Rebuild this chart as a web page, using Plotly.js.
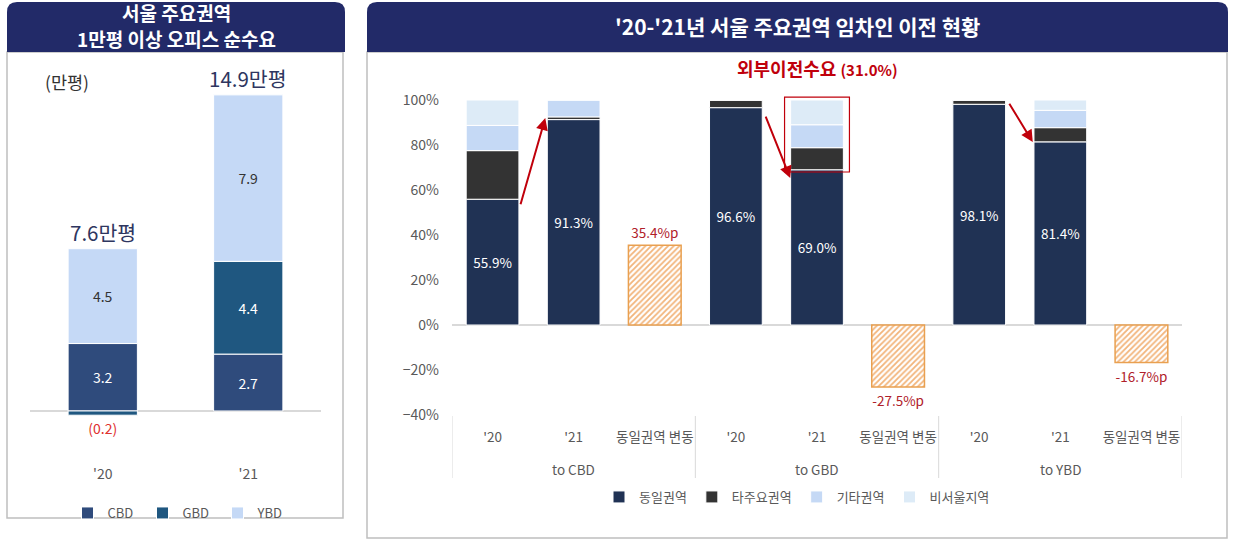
<!DOCTYPE html>
<html>
<head>
<meta charset="utf-8">
<script src="https://cdn.plot.ly/plotly-3.0.1.min.js"></script>
<style>
  html, body { margin: 0; padding: 0; background: #fff; }
  #chart { width: 1235px; height: 540px; }
</style>
</head>
<body>
<div id="chart"></div>
<script>
// left panel: net absorption (만평)
const years = ["'20", "'21"];
const cbd = [3.2, 2.7];
const gbd = [-0.2, 4.4];
const ybd = [4.5, 7.9];
const totals = ["7.6만평", "14.9만평"];

// right panel: tenant relocation shares (%)
const groups = ["to CBD", "to CBD", "to CBD", "to GBD", "to GBD", "to GBD", "to YBD", "to YBD", "to YBD"];
const periods = ["'20", "'21", "동일권역 변동", "'20", "'21", "동일권역 변동", "'20", "'21", "동일권역 변동"];
const sameArea = [55.9, 91.3, null, 96.6, 69.0, null, 98.1, 81.4, null];
const otherMajor = [21.6, 1.2, null, 3.4, 9.8, null, 1.9, 6.3, null];
const otherArea = [11.2, 7.5, null, 0, 10.2, null, 0, 7.7, null];
const nonSeoul = [11.3, 0, null, 0, 11.0, null, 0, 4.6, null];
const sameChange = [null, null, 35.4, null, null, -27.5, null, null, -16.7];

const W = 1235, H = 540;
const px = x => x / W;
const py = y => 1 - y / H;
const FONT = "'Noto Sans CJK KR', 'Noto Sans', sans-serif";
const NAVY = "#222A68";
const RED = "#C0000B";
const GREY = "#595959";
const idx = periods.map((_, i) => i);

function header(x0, x1, y0, y1, r) {
  return {
    type: "path", xref: "paper", yref: "paper",
    path: `M ${px(x0)},${py(y1)} L ${px(x0)},${py(y0 + r)} Q ${px(x0)},${py(y0)} ${px(x0 + r)},${py(y0)} ` +
          `L ${px(x1 - r)},${py(y0)} Q ${px(x1)},${py(y0)} ${px(x1)},${py(y0 + r)} L ${px(x1)},${py(y1)} Z`,
    fillcolor: NAVY, line: { width: 0 }, layer: "below"
  };
}
function box(x0, x1, y0, y1) {
  return {
    type: "rect", xref: "paper", yref: "paper",
    x0: px(x0), x1: px(x1), y0: py(y1), y1: py(y0),
    line: { color: "#BFBFBF", width: 1.5 }, fillcolor: "rgba(0,0,0,0)", layer: "below"
  };
}
function note(x, y, text, font) {
  return { xref: "paper", yref: "paper", x: px(x), y: py(y), text, font,
    showarrow: false, xanchor: "center", yanchor: "middle", align: "center" };
}

const white = "rgba(255,255,255,1)";
const leftTraces = [
  { name: "CBD", y: cbd, marker: { color: "#2F4B7C", line: { color: white, width: 1 } },
    text: cbd.map(v => v.toFixed(1)), textposition: "inside", textfont: { color: "#fff" } },
  { name: "GBD", y: gbd, marker: { color: "#1F5780", line: { color: white, width: 1 } },
    text: gbd.map(v => v < 0 ? "(" + Math.abs(v).toFixed(1) + ")" : v.toFixed(1)),
    textposition: gbd.map(v => v < 0 ? "outside" : "inside"),
    textfont: { color: gbd.map(v => v < 0 ? "#E0302F" : "#fff") } },
  { name: "YBD", y: ybd, marker: { color: "#C5D9F6", line: { color: white, width: 1 } },
    text: ybd.map(v => v.toFixed(1)), textposition: "inside", textfont: { color: "#333" } }
].map(t => Object.assign({
  type: "bar", x: years, xaxis: "x", yaxis: "y", width: 0.476,
  insidetextanchor: "middle", textangle: 0, cliponaxis: false,
  hoverinfo: "skip", legend: "legend"
}, t, { textfont: Object.assign({ size: 14, family: FONT }, t.textfont) }));

const stackSpec = [
  ["동일권역", sameArea, "#203254"],
  ["타주요권역", otherMajor, "#333333"],
  ["기타권역", otherArea, "#C5D9F5"],
  ["비서울지역", nonSeoul, "#DDEBF7"]
];
const rightTraces = stackSpec.map(([name, vals, color], i) => ({
  type: "bar", name, x: idx, y: vals, xaxis: "x2", yaxis: "y2", width: 0.65,
  marker: { color, line: { color: white, width: 1 } },
  texttemplate: i === 0 ? "%{y:.1f}%" : "",
  textposition: i === 0 ? "inside" : "none",
  insidetextanchor: "middle", textangle: 0,
  textfont: { color: "#fff", size: 13.5, family: FONT },
  hoverinfo: "skip", legend: "legend2"
}));
rightTraces.push({
  type: "bar", name: "동일권역 변동", x: idx, y: sameChange, xaxis: "x2", yaxis: "y2", width: 0.65,
  marker: { color: "#fff", line: { color: "#E9A050", width: 1.5 },
    pattern: { shape: "/", fgcolor: "#F2B47A", bgcolor: "#fff", size: 4, solidity: 0.45 } },
  texttemplate: "%{y:.1f}%p", textposition: "outside", cliponaxis: false,
  textfont: { color: "#B0202A", size: 13.5, family: FONT },
  showlegend: false, hoverinfo: "skip"
});

// group labels and dividers for the two-level category axis
const groupNames = [...new Set(groups)];
const groupLabels = groupNames.map(g => {
  const members = idx.filter(i => groups[i] === g);
  return { xref: "x2", yref: "paper", x: (members[0] + members[members.length - 1]) / 2, y: py(469),
    text: g, showarrow: false, yanchor: "middle", font: { size: 13.5, color: GREY } };
});
const bounds = [-0.5].concat(groupNames.map(g => Math.max(...idx.filter(i => groups[i] === g)) + 0.5));
const dividers = bounds.map(b => ({
  type: "line", xref: "x2", yref: "paper", x0: b, x1: b, y0: py(416), y1: py(478),
  line: { color: "#D9D9D9", width: 1 }
}));

// relocation arrows: from '20 same-area top to '21 bar
const arrowFrom = [[0.34, 53], [3.36, 93.3], [6.36, 99]];
const arrowTo = [[0.65, 92], [3.67, 65.3], [6.66, 81.3]];
const arrows = arrowFrom.map((f, i) => ({
  xref: "x2", yref: "y2", axref: "x2", ayref: "y2",
  x: arrowTo[i][0], y: arrowTo[i][1], ax: f[0], ay: f[1],
  showarrow: true, arrowhead: 2, arrowsize: 1.2, arrowwidth: 2, arrowcolor: RED, text: ""
}));

const layout = {
  width: W, height: H,
  margin: { l: 0, r: 0, t: 0, b: 0 },
  paper_bgcolor: "#fff", plot_bgcolor: "rgba(0,0,0,0)",
  font: { family: FONT, color: GREY, size: 13 },
  barmode: "relative",
  bargap: 0.35,
  xaxis: { domain: [px(30), px(321)], type: "category", range: [-0.5, 1.5], fixedrange: true,
    showline: false, ticks: "", tickfont: { size: 14, color: GREY } },
  yaxis: { domain: [py(464), py(70)], range: [-2.516, 16.18], showticklabels: false,
    showgrid: false, zeroline: true, zerolinecolor: "#D9D9D9", zerolinewidth: 1.5, ticks: "" },
  xaxis2: { domain: [px(452), px(1182)], anchor: "y2", type: "linear", range: [-0.5, 8.5],
    tickmode: "array", tickvals: idx, ticktext: periods, showgrid: false, zeroline: false,
    showline: false, ticks: "", tickangle: 0, ticklabelstandoff: 12,
    tickfont: { size: 13.5, color: GREY } },
  yaxis2: { domain: [py(415), py(88.75)], anchor: "x2", range: [-40, 105], dtick: 20, tick0: 0,
    ticksuffix: "%", showgrid: false, zeroline: true, zerolinecolor: "#D9D9D9", zerolinewidth: 1.5,
    ticks: "", ticklabelstandoff: 12, tickfont: { size: 14, color: GREY } },
  legend: { orientation: "h", x: px(180), y: py(513), xanchor: "center", yanchor: "middle",
    bgcolor: "rgba(0,0,0,0)", font: { size: 13, color: GREY }, itemwidth: 30,
    entrywidth: 30, traceorder: "normal" },
  legend2: { orientation: "h", x: px(797), y: py(497), xanchor: "center", yanchor: "middle",
    bgcolor: "rgba(0,0,0,0)", font: { size: 13, color: GREY }, itemwidth: 30,
    traceorder: "normal" },
  shapes: [
    box(7, 343, 52, 518),
    box(367, 1227, 52, 538),
    header(7, 345, 2, 52, 10),
    header(367, 1228, 2, 52, 10),
    { type: "rect", xref: "x2", yref: "y2", x0: 3.6, x1: 4.4, y0: 68, y1: 101.3,
      line: { color: RED, width: 1.2 }, fillcolor: "rgba(0,0,0,0)" },
    ...dividers
  ],
  annotations: [
    note(176, 13, "<b>서울 주요권역</b>", { color: "#fff", size: 19 }),
    note(176, 38, "<b>1만평 이상 오피스 순수요</b>", { color: "#fff", size: 19 }),
    note(797, 26, "<b>'20-'21년 서울 주요권역 임차인 이전 현황</b>", { color: "#fff", size: 21 }),
    note(67, 81, "(만평)", { color: "#333", size: 17.5 }),
    ...totals.map((t, i) => ({
      xref: "x", yref: "y", x: years[i], y: Math.max(0, cbd[i]) + Math.max(0, gbd[i]) + ybd[i],
      text: t, showarrow: false, yanchor: "bottom", yshift: 0,
      font: { color: "#2E3660", size: 20.5 }
    })),
    { xref: "x2", yref: "paper", x: 4, y: py(68), yanchor: "middle",
      text: "<b>외부이전수요 <span style='font-size:15px'>(31.0%)</span></b>",
      showarrow: false, font: { color: RED, size: 18 } },
    ...groupLabels,
    ...arrows
  ]
};

Plotly.newPlot("chart", leftTraces.concat(rightTraces), layout, { displayModeBar: false, staticPlot: true });
</script>
</body>
</html>
